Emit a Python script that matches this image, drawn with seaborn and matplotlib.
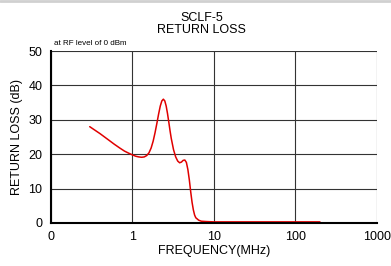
import matplotlib
matplotlib.use("Agg")
import matplotlib.pyplot as plt
import seaborn as sns
import pandas as pd

# Return loss curve (MHz, dB)
freq_mhz = [0.3, 0.4, 0.5, 0.6, 0.7, 0.8, 0.9, 1.0, 1.1, 1.2, 1.3, 1.4, 1.5,
            1.6, 1.7, 1.8, 1.9, 2.0, 2.1, 2.2, 2.3, 2.4, 2.5, 2.6, 2.7, 2.8,
            2.9, 3.0, 3.2, 3.4, 3.6, 3.8, 4.0, 4.2, 4.4, 4.6, 4.8, 5.0, 5.2,
            5.4, 5.6, 5.8, 6.0, 6.5, 7.0, 8.0, 10, 20, 50, 100, 200]
return_loss_db = [28.0, 26.0, 24.3, 22.9, 21.8, 20.9, 20.3, 19.8, 19.4, 19.2,
                  19.1, 19.2, 19.6, 20.4, 21.8, 23.8, 26.3, 29.0, 31.7, 34.0,
                  35.5, 36.0, 35.5, 34.0, 31.8, 29.3, 26.8, 24.6, 21.3, 19.2,
                  18.0, 17.5, 17.7, 18.2, 18.3, 17.6, 15.5, 12.5, 9.0, 6.0,
                  3.8, 2.3, 1.5, 0.8, 0.5, 0.4, 0.3, 0.3, 0.3, 0.3, 0.3]

x_ticks = [0.1, 1, 10, 100, 1000]
x_tick_labels = ["0", "1", "10", "100", "1000"]
y_ticks = [0, 10, 20, 30, 40, 50]

df = pd.DataFrame({"freq": freq_mhz, "rl": return_loss_db})

sns.set_style("white")
plt.rcParams["font.family"] = ["Liberation Sans", "DejaVu Sans"]

fig = plt.figure(figsize=(3.91, 2.66), dpi=100)
ax = fig.add_axes([0.130, 0.162, 0.834, 0.646])

sns.lineplot(data=df, x="freq", y="rl", ax=ax, color="#e00000", linewidth=1.1)

ax.set_xscale("log")
ax.set_xlim(0.1, 1000)
ax.set_ylim(0, 50)
ax.set_xticks(x_ticks)
ax.set_xticklabels(x_tick_labels)
ax.minorticks_off()
ax.set_yticks(y_ticks)
ax.tick_params(axis="both", labelsize=9, length=3, width=0.8, color="black",
               labelcolor="black", direction="out", pad=3)
ax.grid(True, color="#333333", linewidth=0.8)

for side in ["top", "right"]:
    ax.spines[side].set_visible(False)
ax.spines["left"].set_color("black")
ax.spines["left"].set_linewidth(1.5)
ax.spines["bottom"].set_color("black")
ax.spines["bottom"].set_linewidth(1.5)

ax.set_xlabel("FREQUENCY(MHz)", fontsize=9, labelpad=1, color="black")
ax.set_ylabel("RETURN LOSS (dB)", fontsize=9, labelpad=4, color="black")
fig.text(0.515, 0.955, "SCLF-5\nRETURN LOSS", fontsize=9, ha="center",
         va="top", linespacing=1.05, color="black")
fig.text(54 / 391, 0.825, "at RF level of 0 dBm", fontsize=5.8,
         ha="left", va="bottom", color="black")

fig.add_artist(plt.Line2D([0, 1], [0.995, 0.995], color="#d0d0d0",
                          linewidth=2, transform=fig.transFigure))

fig.savefig("out.png", dpi=100)
